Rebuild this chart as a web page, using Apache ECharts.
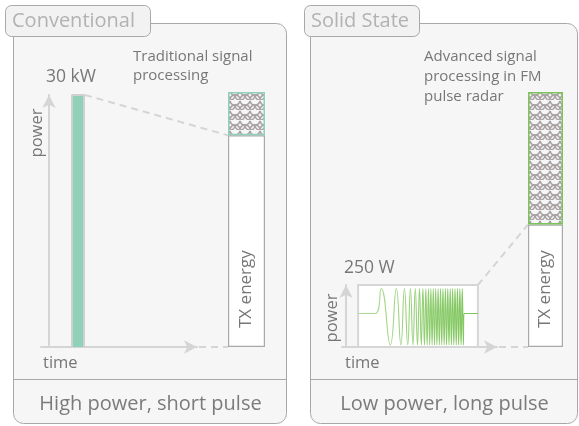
<!DOCTYPE html>
<html>
<head>
<meta charset="utf-8">
<script src="https://cdn.jsdelivr.net/npm/echarts@6/dist/echarts.min.js"></script>
<style>
html,body{margin:0;padding:0;background:#fff;}
#c{width:579px;height:426px;}
</style>
</head>
<body>
<div id="c"></div>
<script>
// ---------------- data ----------------
const panelTitles = ['Conventional', 'Solid State'];
const captions = ['High power, short pulse', 'Low power, long pulse'];
const notes = ['Traditional signal\nprocessing', 'Advanced signal\nprocessing in FM\npulse radar'];
const peakLabels = ['30 kW', '250 W'];
const axisNames = ['power', 'time'];

// conventional: short high-power pulse (time units, kW)
const pulseTime = [23, 23, 35, 35];
const pulsePower = [0, 30, 30, 0];

// solid state: long FM (chirp) pulse, extremes (time units, W)
const chirpTime = [12, 29, 35, 44, 50, 54.5, 58, 61.3, 64, 66.5, 68.8, 71, 73, 74.8,
  76.4, 77.9, 79.3, 80.6, 81.9, 83.1, 84.3, 85.5, 86.7, 87.9, 89.1, 90.3, 91.5, 92.7,
  93.9, 95.1, 96.3, 97.5, 98.7, 99.9, 101.1, 102.3, 103.5, 104.7, 105.9, 107.1, 108.3,
  109.5, 110.7, 111.9, 113.1, 114.3, 115.5, 116.6, 117.2, 131];
const chirpPower = [135, 135, 236, 8, 236, 8, 236, 8, 236, 8, 236, 8, 236, 8,
  236, 8, 236, 8, 236, 8, 236, 8, 236, 8, 236, 8, 236, 8,
  236, 8, 236, 8, 236, 8, 236, 8, 236, 8, 236, 8, 236,
  8, 236, 8, 236, 8, 236, 8, 135, 135];
const chirpBox = [12, 131];

// TX energy (relative, %): plain part and part gained by signal processing
const txCategory = ['TX energy'];
const txPlain = [83, 48];
const txProcessed = [17, 52];

// ---------------- layout ----------------
const L = {
  grids: [
    {left: 41, top: 95, width: 156, height: 252},
    {left: 228, top: 92, width: 37, height: 255},
    {left: 342, top: 285, width: 155, height: 62},
    {left: 528, top: 92, width: 35, height: 255}
  ],
  panels: [
    {x: 13, w: 273, tabX: 5, tabW: 145},
    {x: 310, w: 267, tabX: 304, tabW: 115}
  ]
};
const FONT = '"Open Sans", "Noto Sans", sans-serif';
const AX = '#d5d5d5';
const TXT = '#777777';

function hatch(){
  const s = 10;
  const c = document.createElement('canvas');
  c.width = s; c.height = s;
  const g = c.getContext('2d');
  g.fillStyle = '#f6f6f8'; g.fillRect(0,0,s,s);
  g.strokeStyle = '#aaa2a2'; g.lineWidth = 1.6;
  const h = s / 2;
  g.beginPath(); g.arc(h, 0, h, 0.15, Math.PI-0.15); g.stroke();
  g.beginPath(); g.arc(0, h, h, 0.15, Math.PI/2); g.stroke();
  g.beginPath(); g.arc(s, h, h, Math.PI/2, Math.PI-0.15); g.stroke();
  g.beginPath(); g.arc(h, s, h, Math.PI+0.15, 2*Math.PI-0.15); g.stroke();
  return c;
}
const hatchImg = hatch();

function arrowAxis(extra){
  return Object.assign({
    type: 'value',
    axisLine: {show: true, onZero: true, symbol: ['none', 'arrow'], symbolSize: [10, 13],
      lineStyle: {color: AX, width: 2}},
    axisTick: {show: false}, axisLabel: {show: false}, splitLine: {show: false}
  }, extra);
}
function hiddenAxis(extra){
  return Object.assign({show: false, splitLine: {show: false}}, extra);
}
function txSeries(idx, axis, borderCol){
  return [
    {type: 'bar', xAxisIndex: axis, yAxisIndex: axis, stack: 'tx' + idx, barWidth: '100%',
      data: [txPlain[idx]],
      itemStyle: {color: '#ffffff', borderColor: '#a9a9a9', borderWidth: 1.2},
      label: {show: true, position: 'insideBottom', rotate: 90, align: 'left', verticalAlign: 'middle',
        distance: 19, formatter: txCategory[0], color: TXT, fontSize: 17, fontFamily: FONT}},
    {type: 'bar', xAxisIndex: axis, yAxisIndex: axis, stack: 'tx' + idx, barWidth: '100%',
      data: [txProcessed[idx]],
      itemStyle: {color: {image: hatchImg, repeat: 'repeat'}, borderColor: borderCol, borderWidth: 1.5}}
  ];
}

const chart = echarts.init(document.getElementById('c'), null, {renderer: 'canvas'});

const option = {
  animation: false,
  textStyle: {fontFamily: FONT},
  grid: L.grids.map(g => Object.assign({containLabel: false}, g)),
  xAxis: [
    arrowAxis({gridIndex: 0, min: -8, max: 148}),
    hiddenAxis({gridIndex: 1, type: 'category', data: txCategory}),
    arrowAxis({gridIndex: 2, min: -4, max: 150}),
    hiddenAxis({gridIndex: 3, type: 'category', data: txCategory})
  ],
  yAxis: [
    arrowAxis({gridIndex: 0, min: 0, max: 30, name: peakLabels[0], nameLocation: 'end', nameGap: 9,
      nameTextStyle: {align: 'left', padding: [0, 0, 0, -3], color: TXT, fontSize: 17.5, fontFamily: FONT}}),
    hiddenAxis({gridIndex: 1, type: 'value', min: 0, max: 100}),
    arrowAxis({gridIndex: 2, min: 0, max: 250, name: peakLabels[1], nameLocation: 'end', nameGap: 8,
      nameTextStyle: {align: 'left', padding: [0, 0, 0, -2], color: TXT, fontSize: 17.5, fontFamily: FONT}}),
    hiddenAxis({gridIndex: 3, type: 'value', min: 0, max: 100})
  ],
  series: [
    {type: 'line', xAxisIndex: 0, yAxisIndex: 0, symbol: 'none',
      data: pulseTime.map((t, i) => [t, pulsePower[i]]),
      lineStyle: {color: '#d0d0d0', width: 2},
      areaStyle: {color: '#8fd1b9', opacity: 1}, z: 3},
    ...txSeries(0, 1, '#8fd1b9'),
    {type: 'line', xAxisIndex: 2, yAxisIndex: 2, symbol: 'none', smooth: 0.5,
      data: chirpTime.map((t, i) => [t, chirpPower[i]]),
      lineStyle: {width: 1.1, opacity: 0.9, color: {type: 'linear', x: 0, y: 0, x2: 1, y2: 0,
        colorStops: [{offset: 0, color: '#a9d98c'}, {offset: 1, color: '#6cbd45'}]}},
      markArea: {silent: true, itemStyle: {color: '#ffffff', borderColor: '#d6d6d6', borderWidth: 2},
        data: [[{xAxis: chirpBox[0], yAxis: 0}, {xAxis: chirpBox[1], yAxis: 250}]]}, z: 3},
    ...txSeries(1, 3, '#7cc35a')
  ]
};
chart.setOption(option);

// ---------------- panels & texts ----------------
function panelGraphics(i){
  const p = L.panels[i];
  return [
    {type: 'rect', z: -20, shape: {x: p.x + 0.5, y: 23.5, width: p.w, height: 400, r: [0, 10, 10, 10]},
      style: {fill: '#f6f6f6', stroke: '#a8a8a8', lineWidth: 1}},
    {type: 'line', z: -19, shape: {x1: p.x + 0.5, y1: 379.5, x2: p.x + p.w + 0.5, y2: 379.5},
      style: {stroke: '#a8a8a8', lineWidth: 1}},
    {type: 'rect', z: -18, shape: {x: p.tabX + 0.5, y: 5.5, width: p.tabW, height: 31, r: 6},
      style: {fill: '#f2f2f2', stroke: '#a8a8a8', lineWidth: 1}},
    {type: 'text', z: 10, style: {x: p.tabX + 7, y: 21, text: panelTitles[i], fill: '#b2b2b2',
      font: '20px ' + FONT, textVerticalAlign: 'middle'}},
    {type: 'text', z: 10, style: {x: p.x + p.w / 2 + 1, y: 404, text: captions[i], fill: '#7b7b7b',
      font: '20px ' + FONT, textAlign: 'center', textVerticalAlign: 'middle'}}
  ];
}
const texts = [
  {type: 'text', z: 10, style: {x: 133, y: 47, text: notes[0], fill: TXT, font: '15px ' + FONT, lineHeight: 19}},
  {type: 'text', z: 10, style: {x: 424, y: 47, text: notes[1], fill: TXT, font: '15px ' + FONT, lineHeight: 20}},
  {type: 'text', z: 10, rotation: Math.PI / 2, x: 37, y: 133,
    style: {x: 0, y: 0, text: axisNames[0], fill: TXT, font: '16.5px ' + FONT, textAlign: 'center', textVerticalAlign: 'middle'}},
  {type: 'text', z: 10, rotation: Math.PI / 2, x: 332, y: 318,
    style: {x: 0, y: 0, text: axisNames[0], fill: TXT, font: '16.5px ' + FONT, textAlign: 'center', textVerticalAlign: 'middle'}},
  {type: 'text', z: 10, style: {x: 43, y: 363, text: axisNames[1], fill: TXT, font: '16.5px ' + FONT, textVerticalAlign: 'middle'}},
  {type: 'text', z: 10, style: {x: 345, y: 363, text: axisNames[1], fill: TXT, font: '16.5px ' + FONT, textVerticalAlign: 'middle'}}
];

// connectors computed from the scales
const dash = {stroke: '#d5d5d5', lineWidth: 2, lineDash: [7, 5]};
const pTop = chart.convertToPixel({xAxisIndex: 0, yAxisIndex: 0}, [pulseTime[2], pulsePower[2]]);
const pAxisEnd = chart.convertToPixel({xAxisIndex: 0, yAxisIndex: 0}, [148, 0]);
const txL = chart.convertToPixel({xAxisIndex: 1, yAxisIndex: 1}, [0, txPlain[0]]);
const txL0 = chart.convertToPixel({xAxisIndex: 1, yAxisIndex: 1}, [0, 0]);
const cTop = chart.convertToPixel({xAxisIndex: 2, yAxisIndex: 2}, [chirpBox[1], 250]);
const cAxisEnd = chart.convertToPixel({xAxisIndex: 2, yAxisIndex: 2}, [150, 0]);
const txR = chart.convertToPixel({xAxisIndex: 3, yAxisIndex: 3}, [0, txPlain[1]]);
const txR0 = chart.convertToPixel({xAxisIndex: 3, yAxisIndex: 3}, [0, 0]);
const lEdge = L.grids[1].left, rEdge = L.grids[3].left;
const connectors = [
  {type: 'line', z: 1, shape: {x1: pTop[0] + 1, y1: pTop[1], x2: lEdge, y2: txL[1]}, style: dash},
  {type: 'line', z: 1, shape: {x1: pAxisEnd[0] + 2, y1: pAxisEnd[1], x2: lEdge, y2: txL0[1]}, style: dash},
  {type: 'line', z: 1, shape: {x1: cTop[0], y1: cTop[1], x2: rEdge, y2: txR[1]}, style: dash},
  {type: 'line', z: 1, shape: {x1: cAxisEnd[0] + 2, y1: cAxisEnd[1], x2: rEdge, y2: txR0[1]}, style: dash}
];

chart.setOption({graphic: {elements: [...panelGraphics(0), ...panelGraphics(1), ...texts, ...connectors]}});
</script>
</body>
</html>
